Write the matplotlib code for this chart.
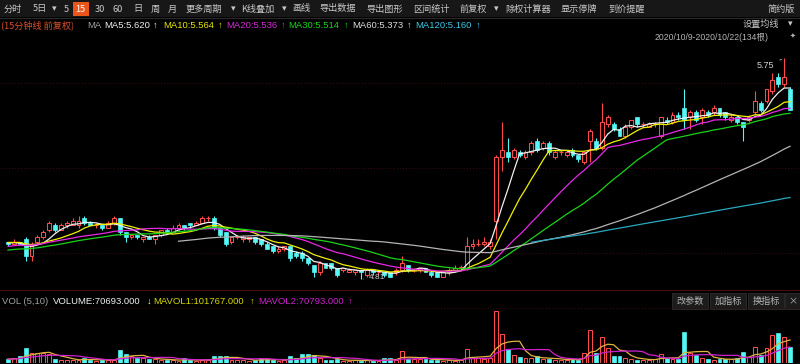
import numpy as np
import pandas as pd
import matplotlib
matplotlib.use("Agg")
import matplotlib.pyplot as plt
from matplotlib.patches import Rectangle
from matplotlib.lines import Line2D

# 15分钟K线 2020/10/9-2020/10/22 (134根), 前复权
opens = [4.97, 4.96, 4.97, 4.98, 4.91, 4.97, 4.99, 5.02, 5.04, 5.02,
         5.04, 5.04, 5.04, 5.07, 5.05, 5.04, 5.04, 5.03, 5.05, 5.07,
         5.01, 4.99, 5.00, 4.98, 4.99, 4.98, 5.00, 5.02, 5.01, 5.03,
         5.04, 5.05, 5.04, 5.05, 5.07, 5.07, 5.03, 5.01, 4.97, 4.99,
         4.98, 4.98, 4.99, 4.98, 4.96, 4.95, 4.93, 4.94, 4.95, 4.92,
         4.92, 4.90, 4.87, 4.84, 4.88, 4.88, 4.86, 4.85, 4.84, 4.84,
         4.85, 4.83, 4.85, 4.84, 4.84, 4.84, 4.84, 4.85, 4.87, 4.85,
         4.85, 4.86, 4.84, 4.84, 4.82, 4.84, 4.85, 4.86, 4.86, 4.95,
         4.96, 4.96, 4.95, 5.06, 5.33, 5.35, 5.33, 5.35, 5.33, 5.35,
         5.40, 5.37, 5.39, 5.33, 5.35, 5.34, 5.36, 5.34, 5.31, 5.40,
         5.40, 5.37, 5.47, 5.47, 5.45, 5.42, 5.46, 5.50, 5.47, 5.46,
         5.47, 5.42, 5.49, 5.48, 5.51, 5.54, 5.50, 5.52, 5.50, 5.52,
         5.52, 5.54, 5.52, 5.49, 5.50, 5.48, 5.49, 5.52, 5.56, 5.57,
         5.61, 5.67, 5.64, 5.62]
closes = [4.96, 4.97, 4.96, 4.91, 4.95, 4.99, 5.01, 5.05, 5.02, 5.04,
          5.05, 5.06, 5.06, 5.05, 5.04, 5.04, 5.03, 5.05, 5.07, 5.01,
          4.99, 5.00, 4.99, 4.99, 4.98, 5.00, 5.02, 5.01, 5.03, 5.04,
          5.03, 5.04, 5.05, 5.07, 5.07, 5.03, 5.00, 4.96, 4.99, 4.99,
          4.99, 4.99, 4.97, 4.96, 4.94, 4.93, 4.94, 4.95, 4.90, 4.91,
          4.90, 4.88, 4.84, 4.88, 4.86, 4.86, 4.83, 4.86, 4.85, 4.85,
          4.84, 4.85, 4.84, 4.84, 4.83, 4.82, 4.85, 4.88, 4.85, 4.85,
          4.86, 4.84, 4.83, 4.82, 4.84, 4.85, 4.86, 4.86, 4.95, 4.96,
          4.96, 4.97, 4.97, 5.33, 5.36, 5.33, 5.36, 5.34, 5.35, 5.39,
          5.36, 5.39, 5.35, 5.35, 5.35, 5.35, 5.34, 5.32, 5.35, 5.44,
          5.37, 5.48, 5.50, 5.45, 5.42, 5.46, 5.49, 5.47, 5.47, 5.47,
          5.47, 5.50, 5.48, 5.51, 5.50, 5.49, 5.52, 5.49, 5.53, 5.51,
          5.54, 5.51, 5.50, 5.50, 5.48, 5.46, 5.50, 5.57, 5.53, 5.62,
          5.66, 5.64, 5.67, 5.53]
highs = [4.97, 4.98, 4.97, 4.99, 4.97, 5.00, 5.02, 5.06, 5.05, 5.05,
         5.06, 5.07, 5.08, 5.08, 5.06, 5.05, 5.04, 5.06, 5.08, 5.07,
         5.01, 5.00, 5.00, 4.99, 5.00, 5.00, 5.02, 5.03, 5.04, 5.05,
         5.04, 5.05, 5.06, 5.08, 5.08, 5.08, 5.03, 5.01, 4.99, 5.00,
         5.00, 4.99, 4.99, 4.98, 4.97, 4.95, 4.95, 4.95, 4.95, 4.93,
         4.93, 4.90, 4.87, 4.89, 4.88, 4.88, 4.86, 4.86, 4.86, 4.85,
         4.85, 4.86, 4.85, 4.85, 4.84, 4.84, 4.86, 4.91, 4.87, 4.86,
         4.86, 4.86, 4.85, 4.84, 4.84, 4.86, 4.87, 4.87, 4.99, 4.98,
         4.98, 4.99, 4.98, 5.34, 5.48, 5.41, 5.37, 5.36, 5.36, 5.40,
         5.41, 5.40, 5.40, 5.36, 5.36, 5.36, 5.37, 5.34, 5.35, 5.45,
         5.41, 5.56, 5.51, 5.48, 5.46, 5.47, 5.49, 5.50, 5.48, 5.48,
         5.48, 5.50, 5.50, 5.52, 5.52, 5.62, 5.53, 5.53, 5.54, 5.53,
         5.55, 5.54, 5.52, 5.51, 5.50, 5.48, 5.51, 5.61, 5.57, 5.62,
         5.69, 5.69, 5.75, 5.63]
lows = [4.95, 4.96, 4.96, 4.89, 4.89, 4.96, 4.98, 5.01, 5.01, 5.02,
        5.03, 5.04, 5.03, 5.04, 5.04, 5.03, 5.02, 5.03, 5.04, 5.00,
        4.97, 4.98, 4.98, 4.97, 4.98, 4.96, 4.99, 5.01, 5.01, 5.02,
        5.02, 5.03, 5.04, 5.05, 5.06, 5.02, 4.99, 4.95, 4.96, 4.98,
        4.97, 4.97, 4.96, 4.95, 4.94, 4.92, 4.92, 4.93, 4.89, 4.90,
        4.89, 4.87, 4.82, 4.83, 4.86, 4.85, 4.82, 4.84, 4.84, 4.83,
        4.81, 4.82, 4.83, 4.83, 4.82, 4.82, 4.83, 4.84, 4.84, 4.84,
        4.84, 4.84, 4.82, 4.82, 4.82, 4.83, 4.84, 4.85, 4.85, 4.94,
        4.95, 4.95, 4.94, 4.98, 5.27, 5.31, 5.32, 5.33, 5.32, 5.34,
        5.35, 5.36, 5.34, 5.32, 5.34, 5.33, 5.33, 5.31, 5.30, 5.31,
        5.36, 5.36, 5.46, 5.44, 5.42, 5.41, 5.45, 5.46, 5.46, 5.46,
        5.46, 5.41, 5.47, 5.47, 5.49, 5.45, 5.45, 5.48, 5.47, 5.50,
        5.51, 5.50, 5.49, 5.48, 5.47, 5.40, 5.48, 5.51, 5.52, 5.56,
        5.60, 5.63, 5.63, 5.53]
volumes = [18000, 22000, 31000, 66000, 44000, 42000, 44000, 40000, 18000, 12000,
           14000, 12000, 15000, 22000, 13000, 10000, 12000, 14000, 15000, 57000,
           40000, 30000, 22000, 20000, 18000, 17000, 12000, 14000, 12000, 10000,
           22000, 12000, 10000, 13000, 14000, 33000, 30000, 32000, 15000, 12000,
           14000, 10000, 12000, 20000, 16000, 14000, 10000, 12000, 30000, 20000,
           38000, 40000, 36000, 22000, 12000, 14000, 16000, 10000, 9000, 12000,
           10000, 13000, 10000, 9000, 20000, 22000, 15000, 53000, 18000, 17000,
           16000, 18000, 12000, 14000, 11000, 12000, 10000, 13000, 62000, 26000,
           20000, 18000, 24000, 230000, 128000, 62000, 35000, 26000, 22000, 20000,
           31000, 16000, 18000, 15000, 12000, 14000, 16000, 15000, 44000, 146000,
           44000, 115000, 66000, 31000, 30000, 22000, 16000, 14000, 12000, 14000,
           18000, 40000, 22000, 18000, 16000, 137000, 44000, 35000, 22000, 16000,
           14000, 18000, 16000, 18000, 20000, 50000, 25000, 70000, 34000, 65000,
           124000, 133000, 116000, 70693]

# 窗口之前的数据，只用来算均线
hist_closes = [4.88, 4.89, 4.90, 4.89, 4.90, 4.91, 4.90, 4.91, 4.92, 4.91,
               4.90, 4.91, 4.92, 4.93, 4.92, 4.93, 4.94, 4.93, 4.94, 4.95,
               4.96, 4.97, 4.96, 4.97, 4.98, 4.97, 4.96, 4.97, 4.96, 4.97]
hist_volumes = [15000, 20000, 12000, 18000, 25000, 14000, 16000, 22000, 13000, 17000]

ma_periods = [5, 10, 20, 30, 60, 120]
ma_labels = ["MA5:5.620", "MA10:5.564", "MA20:5.536", "MA30:5.514", "MA60:5.373", "MA120:5.160"]
ma_colors = ["#f0f0f0", "#f0f000", "#e628e6", "#18d418", "#b4b4b4", "#2aa8c0"]
ma_text_colors = ["#f0f0f0", "#e6e600", "#d42ad4", "#20d020", "#dcdcdc", "#3cc8e6"]

vol_periods = [5, 10]
vol_colors = ["#e0b440", "#d020d0"]

RED = "#ff4a4a"
CYAN = "#54f6f6"

W, H = 800, 364


def fx(x):
    return x / W


def fy(y):
    return 1 - y / H


def price_at(y):
    # 主图像素行 -> 价格
    return 5.373 + (147 - y) / 235


fig = plt.figure(figsize=(8, 3.64), dpi=100, facecolor="black")
cjk = ["Noto Sans CJK SC", "DejaVu Sans"]
lat = ["Liberation Sans", "DejaVu Sans"]

o = np.array(opens)
c = np.array(closes)
h = np.array(highs)
l = np.array(lows)
v = np.array(volumes)
n = len(c)
idx = np.arange(n)
up = c >= o
x_lim = (-1.36, 134.69)

# ---- 主图 ----
ax = fig.add_axes([0, fy(289), 1, (289 - 45) / H])
ax.set_axis_off()
ax.set_xlim(*x_lim)
ax.set_ylim(price_at(289), price_at(45))

for gy in [83, 168, 253]:
    ax.axhline(price_at(gy), color="#3a0c0c", lw=0.7, ls=(0, (1, 2)), zorder=1)

ax.vlines(idx[up], l[up], h[up], color=RED, lw=0.8, zorder=2)
ax.vlines(idx[~up], l[~up], h[~up], color=CYAN, lw=0.8, zorder=2)
body_bot = np.minimum(o, c)
body_h = np.maximum(np.abs(c - o), 0.002)
ax.bar(idx[up], body_h[up], bottom=body_bot[up], width=0.66,
       facecolor="black", edgecolor=RED, linewidth=0.75, zorder=3)
ax.bar(idx[~up], body_h[~up], bottom=body_bot[~up], width=0.66,
       facecolor=CYAN, edgecolor=CYAN, linewidth=0.5, zorder=3)

all_c = pd.Series(hist_closes + closes)
for p, col in zip(ma_periods, ma_colors):
    ma = all_c.rolling(p).mean().iloc[len(hist_closes):].to_numpy()
    ax.plot(idx, ma, color=col, lw=0.9, zorder=4)

hi_i = int(np.argmax(h))
ax.annotate(f"{h[hi_i]:.2f}", xy=(hi_i, h[hi_i]), xytext=(-7, -5), textcoords="offset points",
            ha="right", va="center", fontsize=6.5, color="#d0d0d0", family=lat,
            arrowprops=dict(arrowstyle="-", color="#c0c0c0", lw=0.6), zorder=5)
lo_i = int(np.argmin(l))
ax.annotate(f"{l[lo_i]:.2f}", xy=(lo_i, l[lo_i]), xytext=(6, 1), textcoords="offset points",
            ha="left", va="center", fontsize=6, color="#d0d0d0", family=lat,
            arrowprops=dict(arrowstyle="-", color="#c0c0c0", lw=0.6), zorder=5)

# ---- 成交量 ----
vax = fig.add_axes([0, fy(363), 1, (363 - 308) / H])
vax.set_axis_off()
vax.set_xlim(*x_lim)
vax.set_ylim(0, 243000)
vax.bar(idx[up], v[up], width=0.66, facecolor="black", edgecolor=RED, linewidth=0.75, zorder=2)
vax.bar(idx[~up], v[~up], width=0.66, facecolor=CYAN, edgecolor=CYAN, linewidth=0.5, zorder=2)
all_v = pd.Series(hist_volumes + volumes, dtype=float)
for p, col in zip(vol_periods, vol_colors):
    mv = all_v.rolling(p).mean().iloc[len(hist_volumes):].to_numpy()
    vax.plot(idx, mv, color=col, lw=0.9, zorder=3)

# ---- 工具栏 ----
fig.add_artist(Rectangle((0, fy(17)), 1, 17 / H, transform=fig.transFigure,
                         facecolor="#171717", edgecolor="none", zorder=0))
fig.add_artist(Line2D([0, 1], [fy(17.5)] * 2, color="#2a2a2a", lw=0.8))
fig.add_artist(Rectangle((fx(73), fy(16)), 16 / W, 14 / H, transform=fig.transFigure,
                         facecolor="#e8561c", edgecolor="none", zorder=1))
toolbar = [("分时", 4), ("5日", 33), ("▾", 52), ("5", 64), ("15", 75.5), ("30", 95), ("60", 113),
           ("日", 133), ("周", 151), ("月", 168), ("更多周期", 186), ("▾", 231), ("K线叠加", 241),
           ("▾", 282), ("画线", 292), ("导出数据", 319), ("导出图形", 366), ("区间统计", 413),
           ("前复权", 460), ("▾", 494), ("除权计算器", 505), ("显示停牌", 561), ("到价提醒", 608),
           ("简约版", 768)]
for txt, x in toolbar:
    col = "#ffffff" if txt == "15" else "#c8c8c8"
    fig.text(fx(x), fy(9), txt, fontsize=6.6, color=col, family=cjk, ha="left", va="center", zorder=2)

# ---- 均线标题行 ----
fig.text(fx(1), fy(25), "(15分钟线 前复权)", fontsize=6.6, color="#d8502c", family=cjk, va="center")
fig.text(fx(87), fy(25), "MA", fontsize=6.8, color="#a0a0a0", family=lat, va="center")
ma_x = [104, 163, 226, 288, 352, 415]
arrow_x = [153, 218, 281, 344, 407, 476]
for lab, col, x, ax_ in zip(ma_labels, ma_text_colors, ma_x, arrow_x):
    fig.text(fx(x), fy(25), lab, fontsize=6.8, color=col, family=lat, va="center")
    fig.text(fx(ax_), fy(25), "↑", fontsize=6.8, color=col, family=lat, va="center")

fig.text(fx(743), fy(24), "设置均线", fontsize=6.6, color="#c8c8c8", family=cjk, va="center")
fig.text(fx(788), fy(24), "▾", fontsize=6.6, color="#c8c8c8", family=cjk, va="center")
fig.text(fx(655), fy(37), "2020/10/9-2020/10/22(134根)", fontsize=6.2, color="#b4b4b4",
         family=lat + ["Noto Sans CJK SC"], va="center")
fig.text(fx(790), fy(36), "✦", fontsize=5, color="#b4b4b4", family=["DejaVu Sans"], va="center")

# ---- 成交量标题行 ----
fig.add_artist(Line2D([0, 1], [fy(290)] * 2, color="#4a0c0c", lw=0.8))
fig.add_artist(Line2D([0, 1], [fy(308)] * 2, color="#3a0c0c", lw=0.7, ls=(0, (1, 2))))
vol_items = [("VOL (5,10)", 2, "#a0a0a0"), ("VOLUME:70693.000", 53, "#f0f0f0"), ("↓", 147, "#f0f0f0"),
             ("MAVOL1:101767.000", 153, "#d8d800"), ("↑", 250, "#d8d800"),
             ("MAVOL2:70793.000", 258, "#d020d0"), ("↑", 348, "#d020d0")]
for txt, x, col in vol_items:
    fig.text(fx(x), fy(301), txt, fontsize=6.8, color=col, family=lat, va="center")

for txt, x0, w in [("改参数", 672, 36), ("加指标", 710, 36), ("换指标", 748, 36), ("×", 785, 15)]:
    fig.add_artist(Rectangle((fx(x0), fy(309)), w / W, 16 / H, transform=fig.transFigure,
                             facecolor="#1c1c1c", edgecolor="#2c2c2c", lw=0.6))
    fig.text(fx(x0 + w / 2), fy(301), txt, fontsize=6.6, color="#b4b4b4", family=cjk,
             ha="center", va="center")

fig.savefig("out.png", dpi=100, facecolor="black")
